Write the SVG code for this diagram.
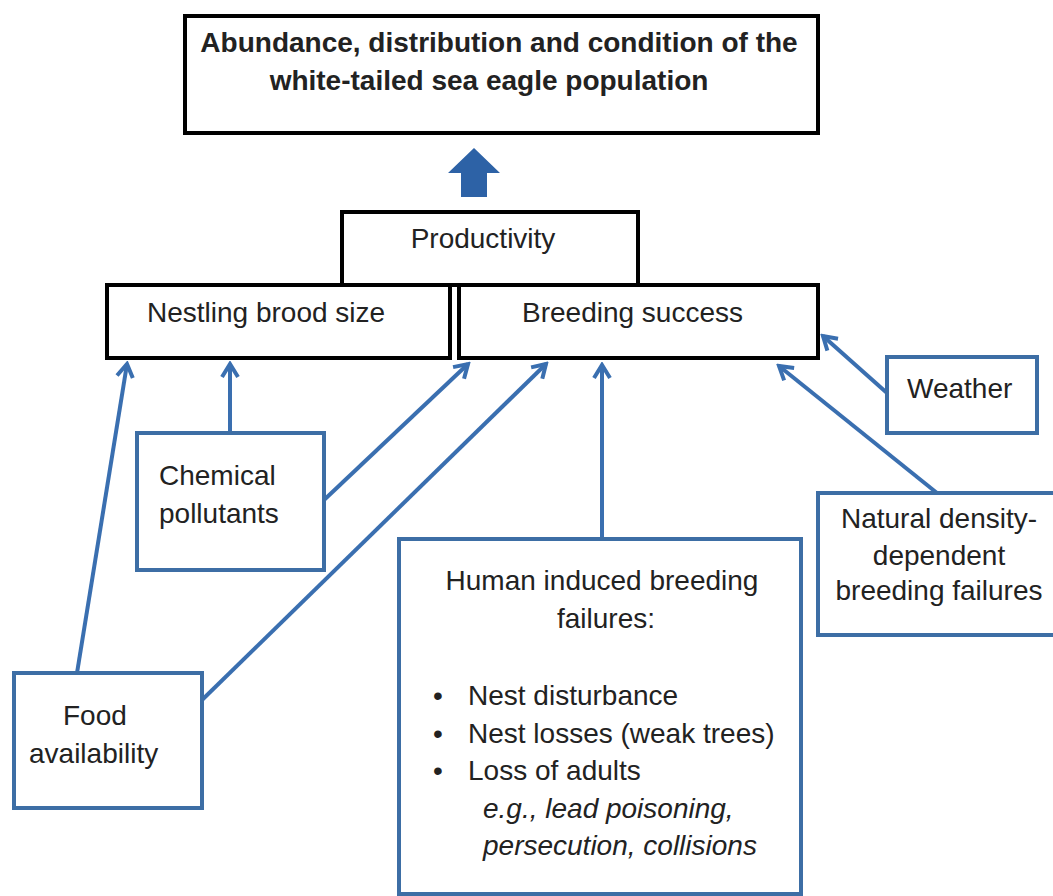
<svg xmlns="http://www.w3.org/2000/svg" width="1053" height="896" viewBox="0 0 1053 896">
  <style>
    .bk { fill: #ffffff; stroke: #000000; stroke-width: 4; }
    .bl { fill: #ffffff; stroke: #3d6ea5; stroke-width: 4; }
    .t { font-family: "Liberation Sans", Arial, sans-serif; font-size: 28px; fill: #222222; }
    .tb { font-weight: bold; }
    .ti { font-style: italic; }
    .c { text-anchor: middle; }
    .conn { stroke: #3a6fb0; stroke-width: 4; fill: none; marker-end: url(#ah); }
  </style>
  <defs>
    <marker id="ah" markerUnits="userSpaceOnUse" viewBox="0 0 20 20" markerWidth="20" markerHeight="20" refX="17" refY="10" orient="auto">
      <path d="M4,2 L17,10 L4,18" fill="none" stroke="#3a6fb0" stroke-width="4" stroke-linejoin="miter"/>
    </marker>
  </defs>
  <rect width="1053" height="896" fill="#ffffff"/>

  <g id="connectors">
    <polygon id="block-arrow" points="474,148 500,173 487,173 487,197 461,197 461,173 448,173" fill="#2d62a6"/>
    <line class="conn" x1="77" y1="673" x2="127" y2="364"/>
    <line class="conn" x1="230" y1="433" x2="230" y2="364"/>
    <line class="conn" x1="324" y1="500" x2="468" y2="364"/>
    <line class="conn" x1="202" y1="700" x2="546" y2="364"/>
    <line class="conn" x1="602" y1="539" x2="602" y2="365"/>
    <line class="conn" x1="937" y1="493" x2="779" y2="366"/>
    <line class="conn" x1="887" y1="393" x2="823" y2="336"/>
  </g>

  <g id="population">
    <rect class="bk" x="185" y="16" width="633" height="117"/>
    <text class="t tb c" x="499" y="52">Abundance, distribution and condition of the</text>
    <text class="t tb c" x="489" y="90">white-tailed sea eagle population</text>
  </g>

  <g id="productivity">
    <rect class="bk" x="342" y="212" width="296" height="73"/>
    <text class="t c" x="483" y="248">Productivity</text>
  </g>

  <g id="nestling-brood-size">
    <rect class="bk" x="107" y="285" width="343" height="73"/>
    <text class="t" x="147" y="322">Nestling brood size</text>
  </g>

  <g id="breeding-success">
    <rect class="bk" x="459" y="285" width="359" height="73"/>
    <text class="t" x="522" y="322">Breeding success</text>
  </g>

  <g id="chemical-pollutants">
    <rect class="bl" x="137" y="433" width="187" height="137"/>
    <text class="t" x="159" y="485">Chemical</text>
    <text class="t" x="159" y="523">pollutants</text>
  </g>

  <g id="food-availability">
    <rect class="bl" x="14" y="673" width="188" height="135"/>
    <text class="t" x="63" y="725">Food</text>
    <text class="t" x="29" y="763">availability</text>
  </g>

  <g id="human-induced">
    <rect class="bl" x="399" y="539" width="402" height="355"/>
    <text class="t c" x="602" y="590">Human induced breeding</text>
    <text class="t c" x="606" y="628">failures:</text>
    <text class="t c" x="438" y="705">•</text>
    <text class="t" x="468" y="705">Nest disturbance</text>
    <text class="t c" x="438" y="743">•</text>
    <text class="t" x="468" y="743">Nest losses (weak trees)</text>
    <text class="t c" x="438" y="780">•</text>
    <text class="t" x="468" y="780">Loss of adults</text>
    <text class="t ti" x="483" y="818">e.g., lead poisoning,</text>
    <text class="t ti" x="483" y="855">persecution, collisions</text>
  </g>

  <g id="weather">
    <rect class="bl" x="887" y="357" width="150" height="76"/>
    <text class="t" x="907" y="398">Weather</text>
  </g>

  <g id="natural-density">
    <rect class="bl" x="818" y="493" width="250" height="142"/>
    <text class="t c" x="939" y="528">Natural density-</text>
    <text class="t c" x="939" y="565">dependent</text>
    <text class="t c" x="939" y="600">breeding failures</text>
  </g>
</svg>
